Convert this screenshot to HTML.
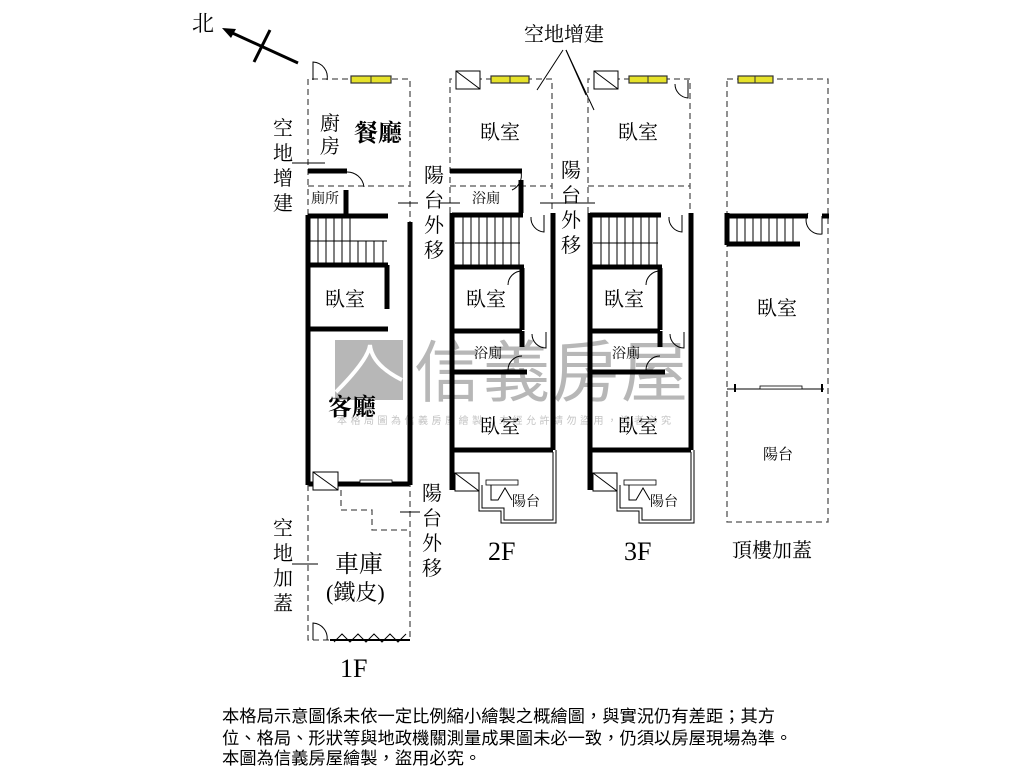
<!DOCTYPE html>
<html><head><meta charset="utf-8"><style>
html,body{margin:0;padding:0;background:#fff;}
svg{display:block;font-family:"Liberation Serif","Noto Serif CJK SC","Noto Sans CJK TC",serif;}
.d{fill:none;stroke:#555;stroke-width:1.3;stroke-dasharray:6,4}
.w{stroke:#000;stroke-width:5;fill:none}
.t{stroke:#000;stroke-width:1;fill:none}
.s{fill:none;stroke:#000;stroke-width:1}
.win{fill:#e6e22a;stroke:#333;stroke-width:1.2}
</style></head><body>
<svg width="1024" height="768" viewBox="0 0 1024 768" xmlns="http://www.w3.org/2000/svg">
<rect width="1024" height="768" fill="#fff"/>

<!-- watermark -->
<g opacity="0.7">
<rect x="335" y="340" width="68" height="60" fill="#9a9a9a"/>
<path d="M336,392 Q368,360 370,345 Q372,365 402,380" stroke="#fff" stroke-width="4" fill="none"/>
<text x="414" y="396" font-size="67" fill="#999" font-family="'Liberation Sans','Noto Sans CJK TC',sans-serif" letter-spacing="2">信義房屋</text>
<text x="337" y="424" font-size="10" fill="#aaa" font-family="'Liberation Sans','Noto Sans CJK TC',sans-serif" letter-spacing="3.5">本格局圖為信義房屋繪製，未經允許請勿盜用，違者必究</text>
</g>

<!-- north arrow -->
<text x="192" y="31" font-size="22">北</text>
<line x1="298" y1="63" x2="228" y2="31" stroke="#000" stroke-width="3"/>
<polygon points="222,28 236,29 231,38" fill="#000"/>
<line x1="270" y1="30" x2="254" y2="62" stroke="#000" stroke-width="3"/>

<!-- top label lines -->
<text x="524" y="41" font-size="20">空地增建</text>
<line x1="563" y1="50" x2="537" y2="90" class="t"/>
<line x1="566" y1="50" x2="594" y2="110" class="t"/>
<line x1="566" y1="50" x2="586" y2="95" class="t"/>

<!-- ===== 1F ===== -->
<polyline class="d" points="308,215 308,79 410,79 410,228"/>
<line class="d" x1="308" y1="186" x2="410" y2="186"/>
<rect class="win" x="351" y="76" width="40" height="7"/><line x1="371" y1="76" x2="371" y2="83" stroke="#333"/>
<path d="M313,80 L313,62 A15,15 0 0 1 327,80" class="s"/>
<text x="320" y="130" font-size="20">廚</text><text x="320" y="153" font-size="20">房</text>
<text x="354" y="141" font-size="24" font-weight="bold">餐廳</text>
<text x="273" y="135" font-size="20">空</text><text x="273" y="160" font-size="20">地</text><text x="273" y="185" font-size="20">增</text><text x="273" y="210" font-size="20">建</text>
<line class="t" x1="292" y1="163" x2="325" y2="163"/>
<path class="w" d="M308,171 H347 M346,190 V215"/>
<path d="M346,172 A17,17 0 0 1 364,187" class="s"/>
<text x="311" y="203" font-size="14">廁所</text>
<path class="w" d="M308,215 V485 M308,216 H388 M308,265 H388 M387,265 V309 M308,329 H388 M410,222 V485 M308,484 H410"/>
<g class="t">
<line x1="310" y1="241" x2="387" y2="241"/>
<line x1="350" y1="216" x2="350" y2="241"/>
<line x1="318" y1="218" x2="318" y2="264"/><line x1="326" y1="218" x2="326" y2="264"/><line x1="334" y1="218" x2="334" y2="264"/><line x1="342" y1="218" x2="342" y2="264"/>
<line x1="350" y1="241" x2="350" y2="264"/><line x1="358" y1="241" x2="358" y2="264"/><line x1="366" y1="241" x2="366" y2="264"/><line x1="374" y1="241" x2="374" y2="264"/><line x1="383" y1="241" x2="383" y2="264"/>
</g>
<text x="325" y="306" font-size="20">臥室</text>
<text x="328" y="415" font-size="24" font-weight="bold">客廳</text>
<rect x="313" y="472" width="25" height="18" fill="#fff" stroke="#000"/><line x1="313" y1="472" x2="338" y2="490" stroke="#000"/>
<line x1="343" y1="482" x2="408" y2="482" stroke="#000"/><rect x="360" y="480" width="32" height="3" fill="#fff" stroke="#000" stroke-width=".8"/>
<polyline class="d" points="341,490 341,510 372,510 372,530 410,530"/>
<polyline class="d" points="308,485 308,640 410,640 410,485"/>
<line class="t" x1="400" y1="512" x2="420" y2="512"/>
<text x="422" y="500" font-size="20">陽</text><text x="422" y="525" font-size="20">台</text><text x="422" y="550" font-size="20">外</text><text x="422" y="575" font-size="20">移</text>
<text x="273" y="535" font-size="20">空</text><text x="273" y="560" font-size="20">地</text><text x="273" y="585" font-size="20">加</text><text x="273" y="610" font-size="20">蓋</text>
<line class="t" x1="292" y1="564" x2="318" y2="564"/>
<text x="335" y="572" font-size="24">車庫</text>
<text x="326" y="600" font-size="22">(鐵皮)</text>
<path d="M313,640 L313,623 A15,15 0 0 1 327,640" class="s"/>
<line x1="330" y1="640" x2="410" y2="640" stroke="#000" stroke-width="2"/>
<polyline class="s" points="334,642 342,634 350,642 358,634 366,642 374,634 382,642 390,634 398,642 406,634"/>
<text x="340" y="677" font-size="26">1F</text>
<line class="t" x1="398" y1="203" x2="418" y2="203"/>
<text x="424" y="182" font-size="20">陽</text><text x="424" y="207" font-size="20">台</text><text x="424" y="232" font-size="20">外</text><text x="424" y="257" font-size="20">移</text>

<!-- ===== 2F/3F shared ===== -->
<g id="f2">
<polyline class="d" points="450,213 450,79 552,79 552,213"/>
<line class="d" x1="450" y1="186" x2="552" y2="186"/>
<rect x="456" y="71" width="24" height="18" fill="#fff" stroke="#000"/><line x1="456" y1="71" x2="480" y2="89" stroke="#000"/>
<rect class="win" x="491" y="76" width="38" height="7"/><line x1="510" y1="76" x2="510" y2="83" stroke="#333"/>
<text x="480" y="139" font-size="20">臥室</text>
<path class="w" d="M452,213 V490 M452,215 H523 M553,213 V450 M452,267 H524 M522,268 V330 M452,331 H522 M452,372 H527 M452,450 H553"/>
<path class="w" d="M522,331 V347" />
<g class="t">
<line x1="455" y1="243" x2="520" y2="243"/>
<line x1="463" y1="217" x2="463" y2="265"/><line x1="471" y1="217" x2="471" y2="265"/><line x1="479" y1="217" x2="479" y2="265"/><line x1="487" y1="217" x2="487" y2="265"/><line x1="495" y1="217" x2="495" y2="265"/><line x1="503" y1="217" x2="503" y2="265"/><line x1="511" y1="217" x2="511" y2="265"/><line x1="519" y1="217" x2="519" y2="265"/>
</g>
<path d="M544,215 L544,232 A14,14 0 0 1 531,217" class="s"/>
<path d="M522,271 A14,14 0 0 0 508,285" class="s"/>
<path d="M546,332 L546,348 A14,14 0 0 1 532,334" class="s"/>
<path d="M522,356 A14,14 0 0 0 508,370" class="s"/>
<text x="466" y="306" font-size="20">臥室</text>
<text x="474" y="358" font-size="14">浴廁</text>
<text x="480" y="433" font-size="20">臥室</text>
<rect x="455" y="473" width="24" height="18" fill="#fff" stroke="#000"/><line x1="455" y1="473" x2="479" y2="491" stroke="#000"/>
<rect x="486" y="480" width="32" height="5" fill="#fff" stroke="#000" stroke-width=".8"/>
<path d="M491,485 V500 H498 L505,488 L512,500" class="s"/>
<polyline class="s" points="479,480 479,511 501,511 501,523 556,523 556,450"/>
<polyline class="s" points="482,485 482,508 504,508 504,520 553,520 553,452"/>
<text x="512" y="506" font-size="14">陽台</text>
</g>
<path class="w" d="M450,171 H522 M521,180 V213"/>
<path d="M521,172 A16,16 0 0 1 512,190" class="s"/>
<text x="472" y="203" font-size="14">浴廁</text>
<line class="t" x1="440" y1="203" x2="460" y2="203"/>
<text x="488" y="560" font-size="26">2F</text>
<line class="t" x1="540" y1="203" x2="595" y2="203"/>
<text x="561" y="177" font-size="20">陽</text><text x="561" y="202" font-size="20">台</text><text x="561" y="227" font-size="20">外</text><text x="561" y="252" font-size="20">移</text>

<use href="#f2" x="138" y="0"/>
<path d="M688,80 L688,98 A14,14 0 0 1 675,84" class="s"/>
<text x="624" y="560" font-size="26">3F</text>

<!-- ===== Roof ===== -->
<rect class="d" x="727" y="79" width="101" height="443"/>
<rect class="win" x="738" y="76" width="35" height="7"/><line x1="755" y1="76" x2="755" y2="83" stroke="#333"/>
<path class="w" d="M727,213 V245 M727,216 H808 M727,244 H800 M822,216 H829"/>
<g class="t">
<line x1="737" y1="217" x2="737" y2="243"/><line x1="745" y1="217" x2="745" y2="243"/><line x1="753" y1="217" x2="753" y2="243"/><line x1="761" y1="217" x2="761" y2="243"/><line x1="769" y1="217" x2="769" y2="243"/><line x1="777" y1="217" x2="777" y2="243"/><line x1="785" y1="217" x2="785" y2="243"/><line x1="793" y1="217" x2="793" y2="243"/>
</g>
<path d="M808,213 A14,14 0 0 0 822,234 V216" class="s"/>
<text x="757" y="315" font-size="20">臥室</text>
<line x1="727" y1="389" x2="824" y2="389" stroke="#000"/>
<line x1="735" y1="384" x2="735" y2="392" stroke="#000" stroke-width="2"/><line x1="822" y1="384" x2="822" y2="392" stroke="#000" stroke-width="2"/>
<rect x="760" y="386" width="42" height="3" fill="#fff" stroke="#000" stroke-width=".8"/>
<text x="763" y="459" font-size="15">陽台</text>
<text x="732" y="557" font-size="20">頂樓加蓋</text>

<!-- footer -->
<g font-family="'Liberation Sans','Noto Sans CJK TC',sans-serif" font-size="17.3">
<text x="222" y="722">本格局示意圖係未依一定比例縮小繪製之概繪圖，與實況仍有差距；其方</text>
<text x="222" y="744">位、格局、形狀等與地政機關測量成果圖未必一致，仍須以房屋現場為準。</text>
<text x="222" y="764">本圖為信義房屋繪製，盜用必究。</text>
</g>
</svg>
</body></html>
